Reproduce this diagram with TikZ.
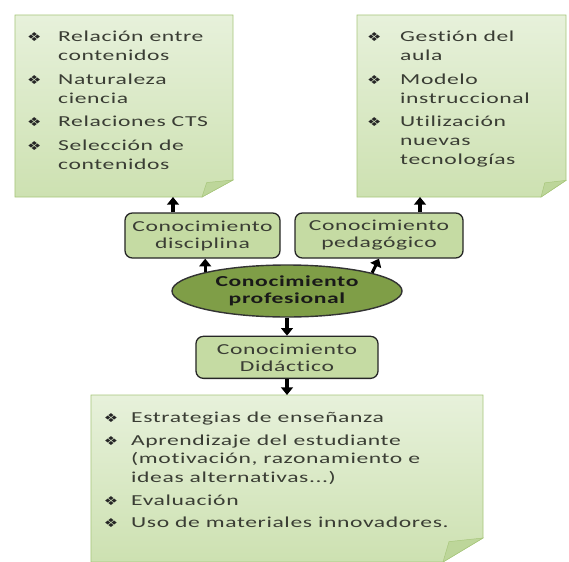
\documentclass[tikz,border=0pt]{standalone}
\usepackage{fontspec}
\setmainfont{Carlito}[FakeStretch=1.55,LetterSpace=4,Ligatures=NoCommon]
\newfontfamily\bulfont{DejaVu Sans}[FakeStretch=1.3]
\usepackage{xcolor}
\usepackage{array}
\usetikzlibrary{shapes.geometric, arrows.meta, positioning, calc}

\definecolor{notetop}{HTML}{E7F1DB}
\definecolor{notebot}{HTML}{CDE1B1}
\definecolor{noteline}{HTML}{A7C67B}
\definecolor{foldgreen}{HTML}{BDD69A}
\definecolor{boxgreen}{HTML}{C5DBA3}
\definecolor{ovalgreen}{HTML}{7F9E47}
\definecolor{inkgray}{HTML}{3A3D34}

\newcommand{\bul}{\leavevmode{\color{black!85}\bulfont\fontsize{10.5}{10}\selectfont ❖}}
% note body with the folded corner
\newcommand{\dognote}[3]{%
  \path[top color=notetop, bottom color=notebot, draw=noteline, line width=0.6pt]
    (#1.north west) -- (#1.north east) -- ([yshift=#3]#1.south east)
    -- ([xshift=-#2]#1.south east) -- (#1.south west) -- cycle;
  \path[fill=foldgreen, draw=noteline, line width=0.4pt]
    ([yshift=#3]#1.south east) -- ([xshift=-#2]#1.south east)
    -- ([xshift=-0.85*#2, yshift=0.85*#3]#1.south east) -- cycle;
}

\tikzset{
  note/.style={
    rectangle,
    inner sep=0pt,
    outer sep=0pt
  },
  notetext/.style={
    inner sep=0pt,
    anchor=north west,
    text=inkgray,
    font=\fontsize{13}{16.2}\selectfont
  },
  kbox/.style={
    rectangle,
    rounded corners=0.22cm,
    draw=black!85,
    line width=1.1pt,
    fill=boxgreen,
    align=center,
    text=inkgray,
    font=\fontsize{13}{14.5}\selectfont,
    minimum height=1.35cm,
    inner sep=0pt
  },
  kcore/.style={
    ellipse,
    draw=black!80,
    line width=1.2pt,
    fill=ovalgreen,
    align=center,
    text=black!90,
    font=\bfseries\fontsize{13}{14.5}\selectfont,
    minimum width=6.9cm,
    minimum height=1.56cm,
    inner sep=0pt
  },
  link/.style={
    line width=2.6pt,
    ->,
    >={Triangle[width=10pt,length=6.5pt]}
  }
}

\begin{document}
\begin{tikzpicture}[x=0.03cm, y=-0.03cm]
  \useasboundingbox (0,0) rectangle (569,561);

  % CENTRE
  \node (Kprof) [kcore] at (287,291) {Conocimiento\\profesional};
  \node (Kdis) [kbox, minimum width=4.65cm] at (202.5,235.5) {Conocimiento\\disciplina};
  \node (Kped) [kbox, minimum width=5.04cm] at (379,235.5) {Conocimiento\\pedagógico};
  \node (Kdid) [kbox, minimum width=5.46cm, minimum height=1.26cm, below=0.54cm of Kprof] {Conocimiento\\Didáctico};

  % NOTES
  \node (Ndis) [note, minimum width=6.54cm, minimum height=5.46cm] at (124,106) {};
  \node (Nped) [note, minimum width=6.27cm, minimum height=5.46cm] at (461.5,106) {};
  \node (Ndid) [note, minimum width=11.76cm, minimum height=5.01cm, below=0.48cm of Kdid] {};
  \dognote{Ndis}{0.93cm}{0.51cm}
  \dognote{Nped}{0.75cm}{0.5cm}
  \dognote{Ndid}{1.2cm}{0.72cm}

  \node (Tdis) [notetext] at ([xshift=0.36cm, yshift=-0.39cm]Ndis.north west) {%
    \begin{tabular}{@{}p{0.93cm}@{}l@{}}
      \bul & Relación entre\\
           & contenidos\\[4pt]
      \bul & Naturaleza\\
           & ciencia\\[4pt]
      \bul & Relaciones CTS\\[4pt]
      \bul & Selección de\\
           & contenidos
    \end{tabular}};

  \node (Tped) [notetext] at ([xshift=0.3cm, yshift=-0.39cm]Nped.north west) {%
    \begin{tabular}{@{}p{0.99cm}@{}l@{}}
      \bul & Gestión del\\
           & aula\\[4pt]
      \bul & Modelo\\
           & instruccional\\[4pt]
      \bul & Utilización\\
           & nuevas\\
           & tecnologías
    \end{tabular}};

  \node (Tdid) [notetext] at ([xshift=0.38cm, yshift=-0.42cm]Ndid.north west) {%
    \begin{tabular}{@{}p{0.82cm}@{}l@{}}
      \bul & Estrategias de enseñanza\\[3pt]
      \bul & Aprendizaje del estudiante\\
           & (motivación, razonamiento e\\
           & ideas alternativas...)\\[3pt]
      \bul & Evaluación\\[3pt]
      \bul & Uso de materiales innovadores.
    \end{tabular}};

  % ARROWS
  \draw[link] ([xshift=-0.885cm]Kdis.north) -- ([xshift=-0.885cm]Kdis.north |- Ndis.south);
  \draw[link] ([xshift=1.23cm]Kped.north) -- ([xshift=1.23cm]Kped.north |- Nped.south);
  \draw[link] (Kprof.167) -- (Kprof.167 |- Kdis.south);
  \draw[link] (Kprof.12) -- (Kped.south);
  \draw[link] (Kprof) -- (Kdid);
  \draw[link] (Kdid) -- (Ndid);

\end{tikzpicture}
\end{document}
